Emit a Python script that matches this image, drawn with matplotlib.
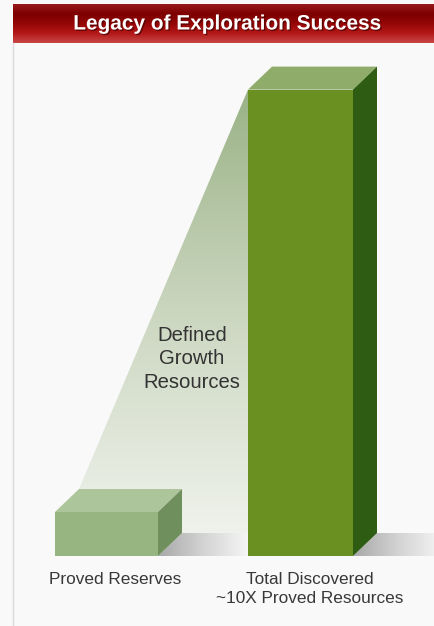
import numpy as np
import matplotlib.pyplot as plt
from matplotlib.patches import Polygon
from matplotlib.colors import LinearSegmentedColormap
import matplotlib.patheffects as pe

plt.rcParams['font.family'] = ['Liberation Sans', 'DejaVu Sans']

# ======================
# Data
# ======================
title = "Legacy of Exploration Success"
categories = ["Proved Reserves", "Total Discovered\n~10X Proved Resources"]
values = [1.0, 10.6]          # relative size, proved reserves = 1
wedge_label = "Defined\nGrowth\nResources"

front_colors = ["#97b580", "#6b9022"]
top_colors = ["#adc59a", "#8fac6a"]
side_colors = ["#6f8f5d", "#2d5c12"]

# ======================
# Layout (pixels, figure is 435 x 626)
# ======================
W, H = 435, 626
floor_px = 556
unit_px = 44.0
bar_left = [55, 248]
bar_width = [103, 105]
depth_x = 24
depth_y = 23 / unit_px
bg = "#f9f9f9"


def ypx(p):
    return (floor_px - p) / unit_px


def gradient(ax, verts, colors, direction="v", z=1):
    poly = Polygon(verts, closed=True, facecolor="none", edgecolor="none")
    ax.add_patch(poly)
    xs = [v[0] for v in verts]
    ys = [v[1] for v in verts]
    cmap = LinearSegmentedColormap.from_list("g", colors)
    if direction == "v":
        arr = np.linspace(0, 1, 256).reshape(-1, 1)
    else:
        arr = np.linspace(0, 1, 256).reshape(1, -1)
    im = ax.imshow(arr, cmap=cmap, origin="upper", aspect="auto",
                   extent=(min(xs), max(xs), min(ys), max(ys)),
                   interpolation="bicubic", zorder=z)
    im.set_clip_path(poly)


fig = plt.figure(figsize=(W / 100, H / 100), dpi=100)
fig.patch.set_facecolor(bg)
ax = fig.add_axes([0, 0, 1, 1])
ax.set_axis_off()

# banner
gradient(ax, [(13, ypx(4)), (W, ypx(4)), (W, ypx(43)), (13, ypx(43))],
         ["#9a1a1a", "#7c0000", "#950606", "#b31818", "#c84848"], z=1)
ax.text(228, ypx(24), title, ha="center", va="center", color="white",
        fontsize=15, fontweight="bold", zorder=5,
        path_effects=[pe.withSimplePatchShadow(offset=(1, -1),
                                               shadow_rgbFace="#3a0000",
                                               alpha=0.6)])

# left frame line
ax.plot([13, 13], [ypx(43), ypx(H)], color="#dadada", lw=1, zorder=1)

# growth wedge between the bars
gradient(ax, [(bar_left[0] + depth_x, values[0] + depth_y),
              (bar_left[1], values[1]),
              (bar_left[1], 0),
              (bar_left[0] + depth_x, 0)],
         ["#9ab286", "#cdd8c2", "#f3f5f0"], z=1)

# floor shadows
for i in range(len(values)):
    r = bar_left[i] + bar_width[i]
    gradient(ax, [(r, 0), (r + depth_x, depth_y), (r + 95, depth_y), (r + 95, 0)],
             ["#a8a8a8", "#d5d5d5", bg], direction="h", z=2)

# bars (front faces)
ax.bar(bar_left, values, width=bar_width, align="edge",
       color=front_colors, zorder=3)

# top and side faces
for i, v in enumerate(values):
    l, w = bar_left[i], bar_width[i]
    ax.add_patch(Polygon([(l, v), (l + depth_x, v + depth_y),
                          (l + w + depth_x, v + depth_y), (l + w, v)],
                         closed=True, facecolor=top_colors[i],
                         edgecolor="none", zorder=3))
    ax.add_patch(Polygon([(l + w, 0), (l + w, v), (l + w + depth_x, v + depth_y),
                          (l + w + depth_x, depth_y)],
                         closed=True, facecolor=side_colors[i],
                         edgecolor="none", zorder=3))

# labels
for i, cat in enumerate(categories):
    cx = bar_left[i] + (bar_width[i] + depth_x) / 2 - 3
    ax.text(cx, ypx(572), cat, ha="center", va="top", fontsize=12.4,
            color="#383838", linespacing=1.3, zorder=5)

ax.text(192, ypx(359), wedge_label, ha="center", va="center",
        fontsize=14.6, color="#333333", linespacing=1.3, zorder=5)

ax.set_xlim(0, W)
ax.set_ylim(ypx(H), ypx(0))

plt.savefig("out.png", dpi=100, facecolor=bg)
